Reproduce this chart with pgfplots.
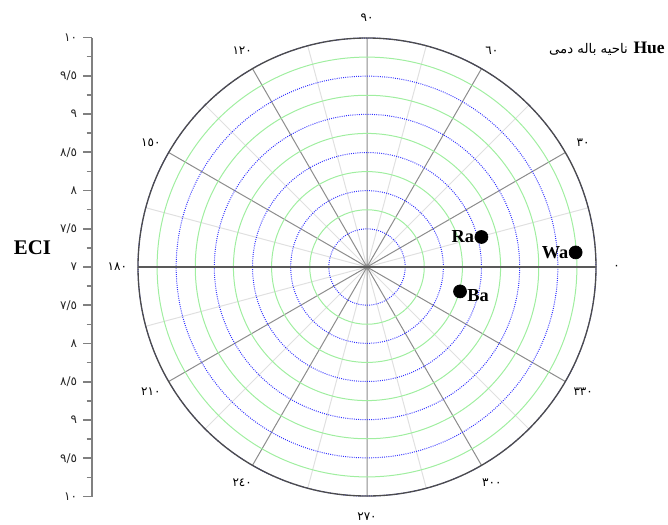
\documentclass[border=0pt]{standalone}
\usepackage{fontspec}
\setmainfont{Liberation Serif}
\newfontfamily\arabicfont[Script=Arabic]{DejaVu Sans}
\newfontfamily\digitfont{DejaVu Sans}
\usepackage{pgfplots}
\usepackage{pgfplotstable}
\pgfplotsset{compat=1.18}
\usepgfplotslibrary{polar}
\TeXXeTstate=1
\definecolor{gridgreen}{RGB}{160,238,160}
\definecolor{gridblue}{RGB}{50,50,255}
\pgfplotstableread{
a eci
14.7 8.55
4.0 9.74
345.3 8.26
}\points
\newcommand{\dg}{\digitfont\fontsize{7.2}{8}\selectfont}
\begin{document}
\begin{tikzpicture}
\path[use as bounding box] (0,0) rectangle (400.8pt,314.4pt);
\begin{polaraxis}[
  at={(220.2pt,154.2pt)}, anchor=center,
  scale only axis, width=274.8pt, height=274.8pt,
  xmin=0, xmax=360, ymin=0, ymax=3,
  xtick={0,30,...,330}, minor x tick num=1,
  ytick={0.5,1,...,3}, minor y tick num=1,
  xticklabel={\empty}, yticklabel={\empty},
  xmajorgrids, xminorgrids, ymajorgrids, yminorgrids,
  major x grid style={draw=black!45, line width=0.6pt},
  minor x grid style={draw=black!12, line width=0.6pt},
  major y grid style={draw=gridblue, line width=0.6pt, dash pattern=on 0.55pt off 0.75pt},
  minor y grid style={draw=gridgreen, line width=0.6pt},
  axis line style={draw=black!70, line width=0.8pt},
  y axis line style={draw=none},
  tick style={draw=none},
  clip=false,
]
\draw[black!65, line width=0.7pt] (axis cs:0,3) -- (axis cs:180,3);
\addplot[only marks, mark=*, mark size=3.9pt, black] table[x=a, y expr=\thisrow{eci}-7] {\points};
\node[anchor=east, inner sep=0pt, xshift=-4.2pt, font=\fontsize{11}{12}\selectfont\bfseries] at (axis cs:14.7,1.55) {Ra};
\node[anchor=east, inner sep=0pt, xshift=-4.2pt, font=\fontsize{11}{12}\selectfont\bfseries] at (axis cs:4.0,2.74) {Wa};
\node[anchor=west, inner sep=0pt, xshift=4.2pt, yshift=-2.5pt, font=\fontsize{11}{12}\selectfont\bfseries] at (axis cs:345.3,1.26) {Ba};
\node[font=\dg] at (axis cs:0,3.27) {٠};
\node[font=\dg] at (axis cs:30,3.27) {٣٠};
\node[font=\dg] at (axis cs:60,3.27) {٦٠};
\node[font=\dg] at (axis cs:90,3.27) {٩٠};
\node[font=\dg] at (axis cs:120,3.27) {١٢٠};
\node[font=\dg] at (axis cs:150,3.27) {١٥٠};
\node[font=\dg] at (axis cs:180,3.27) {١٨٠};
\node[font=\dg] at (axis cs:210,3.27) {٢١٠};
\node[font=\dg] at (axis cs:240,3.27) {٢٤٠};
\node[font=\dg] at (axis cs:270,3.27) {٢٧٠};
\node[font=\dg] at (axis cs:300,3.27) {٣٠٠};
\node[font=\dg] at (axis cs:330,3.27) {٣٣٠};
\end{polaraxis}
\begin{axis}[
  at={(55.2pt,154.2pt)}, anchor=west,
  scale only axis, width=10pt, height=275.4pt,
  xmin=0, xmax=1, ymin=-3, ymax=3,
  axis y line=left, axis x line=none,
  ytick={-3,-2.5,...,3}, minor y tick num=1,
  yticklabels={١٠,٩/٥,٩,٨/٥,٨,٧/٥,٧,٧/٥,٨,٨/٥,٩,٩/٥,١٠},
  tick align=outside,
  major tick length=5.4pt, minor tick length=3.2pt,
  y axis line style={draw=black!50, line width=1pt, -},
  every tick/.style={draw=black!50, line width=1pt},
  yticklabel style={font=\dg, text=black!85},
]
\end{axis}
\node[font=\fontsize{12.5}{14}\selectfont\bfseries] at (19.5pt,165.6pt) {ECI};
\node[anchor=east, inner sep=0pt, font=\fontsize{10.5}{12}\selectfont\bfseries] (hue) at (399pt,285.6pt) {Hue};
\node[anchor=east, inner sep=0pt, font=\arabicfont\fontsize{8}{9}\selectfont] at ([xshift=-3pt,yshift=-1pt]hue.west) {\beginR ناحیه باله دمی\endR};
\end{tikzpicture}
\end{document}
